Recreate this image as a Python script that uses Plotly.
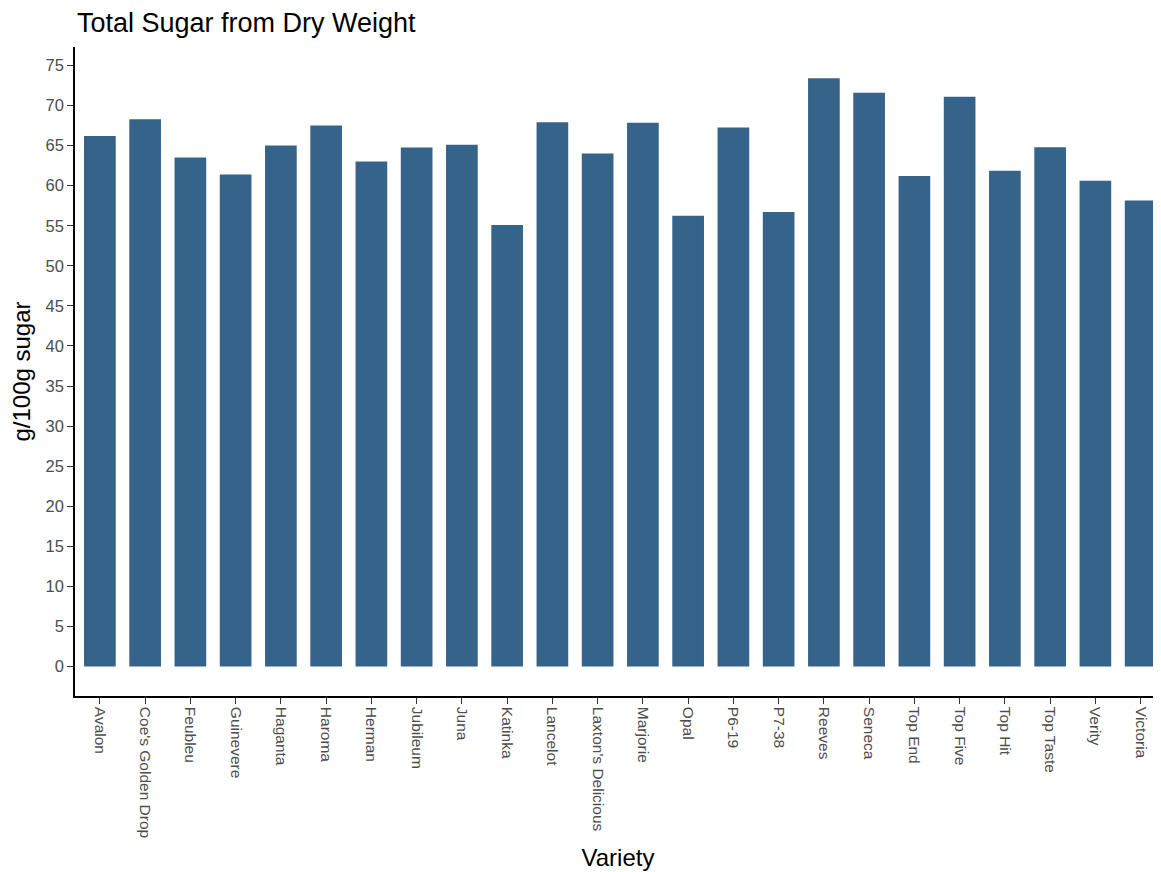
import plotly.graph_objects as go

varieties = ["Avalon", "Coe's Golden Drop", "Feubleu", "Guinevere", "Haganta", "Haroma",
             "Herman", "Jubileum", "Juna", "Katinka", "Lancelot", "Laxton's Delicious",
             "Marjorie", "Opal", "P6-19", "P7-38", "Reeves", "Seneca", "Top End",
             "Top Five", "Top Hit", "Top Taste", "Verity", "Victoria"]
sugar = [66.2, 68.3, 63.5, 61.4, 65.0, 67.5, 63.0, 64.75, 65.1, 55.1, 67.9, 64.0,
         67.85, 56.25, 67.25, 56.7, 73.4, 71.6, 61.2, 71.1, 61.85, 64.8, 60.6, 58.15]
y_ticks = list(range(0, 80, 5))

W, H = 1153, 864
fig = go.Figure(go.Bar(x=varieties, y=sugar, marker_color="#35638A",
                       marker_line_width=0, width=0.7))

font_family = "Liberation Sans, Arial, sans-serif"
fig.update_layout(
    width=W, height=H,
    margin=dict(l=67, r=0, t=39, b=176),
    plot_bgcolor="white", paper_bgcolor="white",
    font=dict(family=font_family),
    title=dict(text="Total Sugar from Dry Weight", x=69/W, xanchor="left",
               y=1 - 15/H, yanchor="middle", font=dict(size=27, color="black")),
    showlegend=False,
)
fig.update_xaxes(
    range=[-0.55, 23.45], showline=True, linecolor="black", linewidth=1.5,
    ticks="outside", ticklen=6, tickcolor="#333333", tickwidth=1.2,
    tickangle=90, tickfont=dict(size=15.5, color="#4D4D4D"),
    showgrid=False, zeroline=False,
    title=dict(text="Variety", font=dict(size=24, color="black"), standoff=12),
)
fig.update_yaxes(
    range=[-3.67, 77.3], tickvals=y_ticks, showline=True, linecolor="black", linewidth=1.5,
    ticks="outside", ticklen=6, tickcolor="#333333", tickwidth=1.2,
    tickfont=dict(size=16.5, color="#4D4D4D"),
    showgrid=False, zeroline=False,
    title=dict(text="g/100g sugar", font=dict(size=24, color="black"), standoff=12),
)
fig.write_html("out.html")
